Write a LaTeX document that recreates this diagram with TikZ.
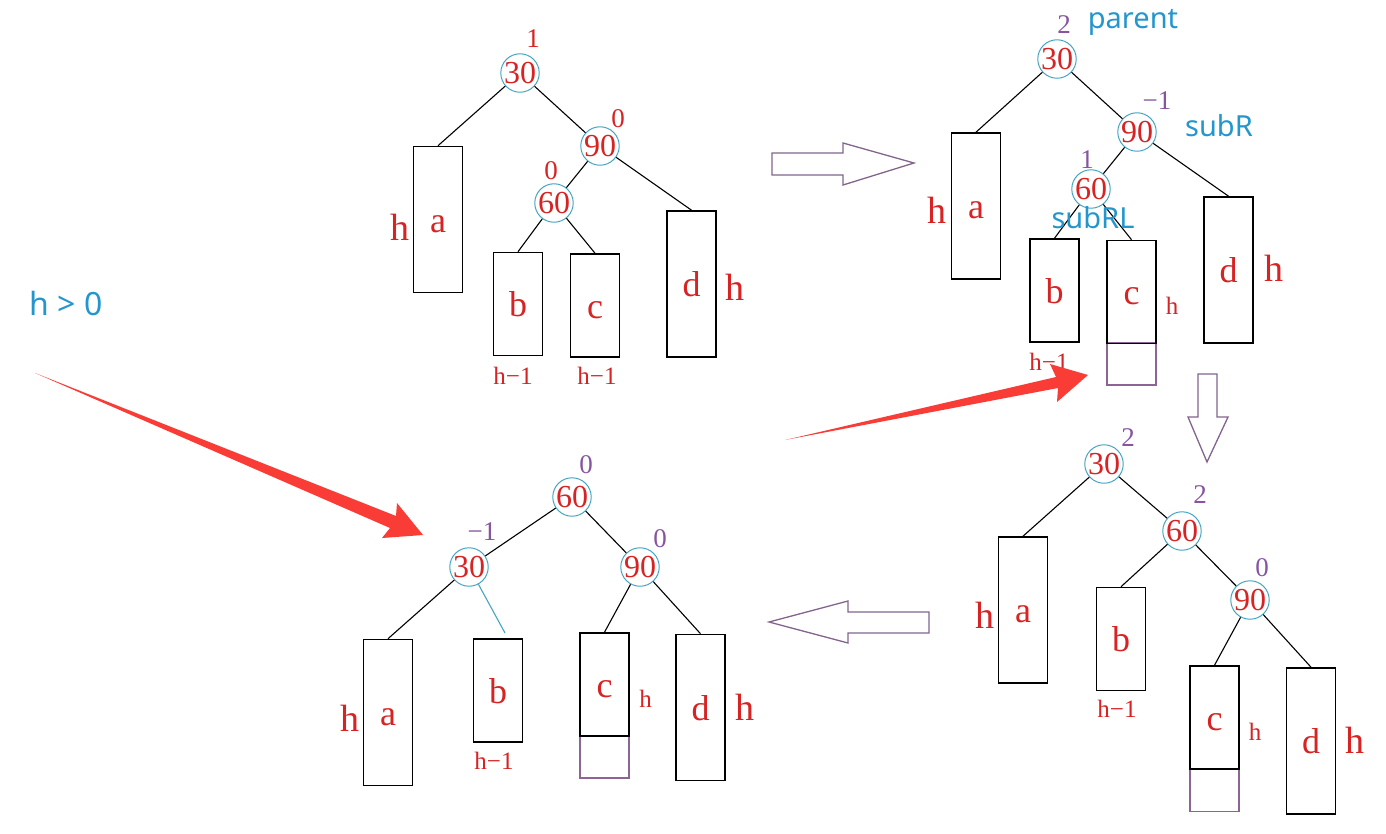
\documentclass[tikz,border=0pt]{standalone}
\usepackage{fontspec}
\setmainfont{Liberation Serif}
\newfontfamily\tagfamily{Noto Sans}
\definecolor{txtred}{RGB}{215,35,35}
\definecolor{ringc}{RGB}{70,165,195}
\definecolor{bfc}{RGB}{135,85,160}
\definecolor{tagblue}{RGB}{35,150,205}
\definecolor{extc}{RGB}{140,100,150}
\definecolor{arrc}{RGB}{130,100,140}
\definecolor{arrred}{RGB}{250,60,55}
\newcommand\numf{\fontsize{32}{32}\selectfont}
\newcommand\leaff{\fontsize{36}{36}\selectfont}
\newcommand\hbf{\fontsize{38}{38}\selectfont}
\newcommand\hsf{\fontsize{25}{25}\selectfont}
\newcommand\bff{\fontsize{27}{27}\selectfont}
\newcommand\tagf{\tagfamily\fontsize{29}{29}\selectfont}
\newcommand\condf{\tagfamily\fontsize{32}{32}\selectfont}
\tikzset{
  ring/.style={circle, draw=ringc, line width=1pt, minimum size=37pt, inner sep=0pt, text=txtred, font=\numf},
  leaf/.style={rectangle, draw=black, line width=1.6pt, inner sep=0pt, minimum width=49pt,
               text=txtred, font=\leaff, text height=25pt, text depth=0pt},
  tall/.style={leaf, minimum height=146pt},
  short/.style={leaf, minimum height=103pt},
  ext/.style={rectangle, draw=extc, line width=1.2pt, inner sep=0pt, minimum width=49pt, minimum height=42pt},
  edge/.style={draw=black, line width=1.1pt},
  bf/.style={text=bfc, font=\bff, anchor=base, inner sep=0pt},
  bfred/.style={bf, text=txtred},
  hbig/.style={text=txtred, font=\hbf, anchor=base, inner sep=0pt},
  hsmall/.style={text=txtred, font=\hsf, anchor=base, inner sep=0pt},
  tag/.style={text=tagblue, font=\tagf, anchor=base, inner sep=0pt},
  hollow/.style={draw=arrc, line width=1.3pt, fill=white, line join=miter},
  redarrow/.style={fill=arrred, draw=none},
}
\begin{document}
\begin{tikzpicture}[x=1pt, y=-1pt]
\fill[white] (0,0) rectangle (1386,833);
\useasboundingbox (0,0) rectangle (1386,833);

% ---------- tree 1: before rotation ----------
\node[ring] (t1r30) at (520,73) {30};
\node[ring] (t1r90) at (600,146) {90};
\node[ring] (t1r60) at (554,203) {60};
\node[tall]  (t1a) at (438,219.5) {a};
\node[short] (t1b) at (518,304) {b};
\node[short] (t1c) at (595,305.5) {c};
\node[tall]  (t1d) at (691.5,284) {d};
\path[edge] (t1r30) -- (t1a.north);
\path[edge] (t1r30) -- (t1r90);
\path[edge] (t1r90) -- (t1r60);
\path[edge] (t1r90) -- (t1d.north);
\path[edge] (t1r60) -- (t1b.north);
\path[edge] (t1r60) -- (t1c.north);
\node[bfred] (t1f30) at (533,47) {1};
\node[bfred] (t1f90) at (618,127) {0};
\node[bfred] (t1f60) at (551,179) {0};
\node[hbig] (t1ha) at (400,240) {h};
\node[hbig] (t1hd) at (735,300) {h};
\node[hsmall] (t1hb) at (513,384) {h−1};
\node[hsmall] (t1hc) at (597,384) {h−1};

% ---------- tree 2: insertion under c ----------
\node[ring] (t2r30) at (1057,59) {30};
\node[ring] (t2r90) at (1137,132) {90};
\node[ring] (t2r60) at (1091,189) {60};
\node[ext]   (t2x) at (1131.5,364) {};
\node[tall]  (t2a) at (976,206) {a};
\node[short] (t2b) at (1054.5,290.5) {b};
\node[short] (t2c) at (1131.5,292) {c};
\node[tall]  (t2d) at (1228.5,270) {d};
\path[edge] (t2r30) -- (t2a.north);
\path[edge] (t2r30) -- (t2r90);
\path[edge] (t2r90) -- (t2r60);
\path[edge] (t2r90) -- (t2d.north);
\path[edge] (t2r60) -- (t2b.north);
\path[edge] (t2r60) -- (t2c.north);
\node[bf] (t2f30) at (1064,33) {2};
\node[bf] (t2f90) at (1157,109) {−1};
\node[bf] (t2f60) at (1087,168) {1};
\node[tag] (t2parent) at (1133,28) {parent};
\node[tag] (t2subr) at (1219,136) {subR};
\node[tag] (t2subrl) at (1093,228) {subRL};
\node[hbig] (t2ha) at (937,223) {h};
\node[hbig] (t2hd) at (1273.5,281) {h};
\node[hsmall] (t2hc) at (1172,314) {h};
\node[hsmall] (t2hb) at (1049,370) {h−1};

% ---------- tree 3: after right rotation of subR ----------
\node[ring] (t3r30) at (1104,464) {30};
\node[ring] (t3r60) at (1182,531) {60};
\node[ring] (t3r90) at (1250,600) {90};
\node[ext]   (t3x) at (1214.5,790.5) {};
\node[tall]  (t3a) at (1023,610) {a};
\node[short] (t3b) at (1121,639) {b};
\node[short] (t3c) at (1214.5,717.5) {c};
\node[tall]  (t3d) at (1311,741) {d};
\path[edge] (t3r30) -- (t3a.north);
\path[edge] (t3r30) -- (t3r60);
\path[edge] (t3r60) -- (t3b.north);
\path[edge] (t3r60) -- (t3r90);
\path[edge] (t3r90) -- (t3c.north);
\path[edge] (t3r90) -- (t3d.north);
\node[bf] (t3f30) at (1128,446) {2};
\node[bf] (t3f60) at (1200,503) {2};
\node[bf] (t3f90) at (1262,576) {0};
\node[hbig] (t3ha) at (985,628) {h};
\node[hbig] (t3hd) at (1355,753) {h};
\node[hsmall] (t3hc) at (1255,740) {h};
\node[hsmall] (t3hb) at (1117,717) {h−1};

% ---------- tree 4: after left rotation of parent ----------
\node[ring] (t4r60) at (572,497) {60};
\node[ring] (t4r30) at (469,567) {30};
\node[ring] (t4r90) at (640,567) {90};
\node[ext]   (t4x) at (604.5,757) {};
\node[tall]  (t4a) at (388,712.5) {a};
\node[short] (t4b) at (498,690.5) {b};
\node[short] (t4c) at (604.5,684.5) {c};
\node[tall]  (t4d) at (700.5,707.5) {d};
\coordinate (t4bend) at (505,633);
\path[edge] (t4r60) -- (t4r30);
\path[edge] (t4r60) -- (t4r90);
\path[edge] (t4r30) -- (t4a.north);
\draw[ringc, line width=1.1pt] (t4r30) -- (t4bend);
\path[edge] (t4r90) -- (t4c.north);
\path[edge] (t4r90) -- (t4d.north);
\node[bf] (t4f60) at (586,473) {0};
\node[bf] (t4f30) at (482,540) {−1};
\node[bf] (t4f90) at (660,547) {0};
\node[hbig] (t4ha) at (350,731) {h};
\node[hbig] (t4hd) at (745,720) {h};
\node[hsmall] (t4hc) at (645.5,707) {h};
\node[hsmall] (t4hb) at (494,769) {h−1};

% ---------- condition ----------
\node[tag, font=\condf] (cond) at (66,315) {h > 0};

% ---------- hollow step arrows ----------
\draw[hollow] (772,153) -- (843,153) -- (843,143) -- (914,163) -- (843,185) -- (843,175) -- (772,175) -- cycle;
\draw[hollow] (1198,374) -- (1217,374) -- (1217,417) -- (1228,417) -- (1207,462) -- (1188,417) -- (1198,417) -- cycle;
\draw[hollow] (929,612) -- (848,612) -- (848,601) -- (769,622) -- (848,643) -- (848,633) -- (929,633) -- cycle;

% ---------- red pointer arrows ----------
\fill[redarrow] (35,373) -- (396,516) -- (397,503) -- (423,535) -- (382,538) -- (390,528) -- cycle;
\fill[redarrow] (785,440) -- (1056,377) -- (1050,364) -- (1088,375) -- (1057,402) -- (1058,388) -- cycle;
\end{tikzpicture}
\end{document}
